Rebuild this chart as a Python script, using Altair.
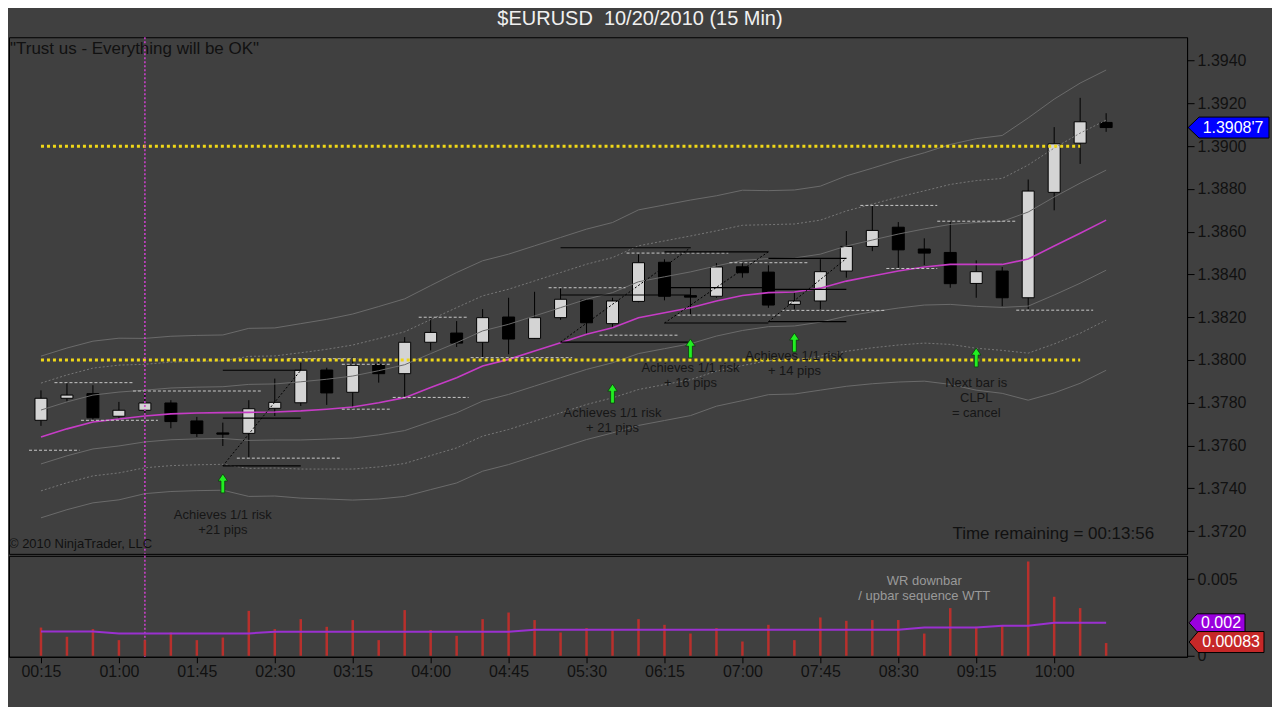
import altair as alt
import pandas as pd

FONT = "Liberation Sans"
BG = "#404040"

# ---------------- data ----------------
time_labels = ["00:15", "01:00", "01:45", "02:30", "03:15", "04:00", "04:45",
               "05:30", "06:15", "07:00", "07:45", "08:30", "09:15", "10:00"]
price_ticks = [1.3720, 1.3740, 1.3760, 1.3780, 1.3800, 1.3820,
               1.3840, 1.3860, 1.3880, 1.3900, 1.3920, 1.3940]
vol_ticks = [0, 0.005]

opens = [1.37718, 1.37821, 1.37843, 1.37737, 1.37765, 1.37799, 1.37715, 1.37659, 1.37657, 1.37774,
         1.37800, 1.37953, 1.37849, 1.37980, 1.37936, 1.38083, 1.38126, 1.38083, 1.38201, 1.38101,
         1.38198, 1.38280, 1.38170, 1.38274, 1.38457, 1.38301, 1.38298, 1.38436, 1.38411, 1.38260,
         1.38276, 1.38416, 1.38531, 1.38621, 1.38519, 1.38503, 1.38358, 1.38416, 1.38291, 1.38784,
         1.39014, 1.39111]
highs = [1.37858, 1.37894, 1.37882, 1.37804, 1.37852, 1.37812, 1.37734, 1.37707, 1.37812, 1.37913,
         1.37987, 1.37964, 1.38011, 1.37991, 1.38107, 1.38195, 1.38182, 1.38238, 1.38291, 1.38319,
         1.38338, 1.38282, 1.38291, 1.38494, 1.38471, 1.38338, 1.38453, 1.38453, 1.38443, 1.38315,
         1.38471, 1.38603, 1.38720, 1.38645, 1.38569, 1.38645, 1.38466, 1.38435, 1.38844, 1.39089,
         1.39226, 1.39154]
lows = [1.37692, 1.37805, 1.37715, 1.37723, 1.37737, 1.37681, 1.37640, 1.37598, 1.37543, 1.37738,
        1.37785, 1.37790, 1.37770, 1.37894, 1.37824, 1.38045, 1.38061, 1.38014, 1.38027, 1.38098,
        1.38188, 1.38120, 1.38148, 1.38270, 1.38279, 1.38214, 1.38291, 1.38385, 1.38244, 1.38237,
        1.38237, 1.38385, 1.38509, 1.38431, 1.38444, 1.38338, 1.38291, 1.38252, 1.38237, 1.38700,
        1.38917, 1.39067]
closes = [1.37821, 1.37836, 1.37730, 1.37765, 1.37799, 1.37712, 1.37656, 1.37653, 1.37772, 1.37802,
          1.37952, 1.37846, 1.37975, 1.37936, 1.38083, 1.38129, 1.38079, 1.38198, 1.38098, 1.38198,
          1.38284, 1.38174, 1.38276, 1.38455, 1.38298, 1.38294, 1.38435, 1.38408, 1.38257, 1.38276,
          1.38413, 1.38531, 1.38606, 1.38515, 1.38500, 1.38357, 1.38413, 1.38291, 1.38790, 1.39011,
          1.39114, 1.39087]

moving_avg = [1.37640, 1.37678, 1.37710, 1.37724, 1.37738, 1.37748, 1.37752, 1.37754, 1.37755, 1.37757,
              1.37762, 1.37770, 1.37780, 1.37800, 1.37824, 1.37871, 1.37917, 1.37972, 1.38003, 1.38042,
              1.38081, 1.38120, 1.38151, 1.38198, 1.38221, 1.38244, 1.38276, 1.38302, 1.38315, 1.38318,
              1.38336, 1.38369, 1.38393, 1.38416, 1.38435, 1.38447, 1.38447, 1.38447, 1.38472, 1.38533,
              1.38593, 1.38654]
band_width = [0.00126, 0.00126, 0.00126, 0.00126, 0.00121, 0.00121, 0.00121, 0.00121, 0.00131, 0.00131,
              0.00136, 0.00140, 0.00145, 0.00150, 0.00154, 0.00159, 0.00164, 0.00164, 0.00164, 0.00164,
              0.00164, 0.00164, 0.00164, 0.00168, 0.00168, 0.00168, 0.00164, 0.00164, 0.00159, 0.00159,
              0.00159, 0.00164, 0.00168, 0.00173, 0.00178, 0.00187, 0.00196, 0.00201, 0.00220, 0.00229,
              0.00234, 0.00234]

volume = [0.00184, 0.00124, 0.00174, 0.00102, 0.00102, 0.00152, 0.00102, 0.00119, 0.00293, 0.00174,
          0.00239, 0.00189, 0.00233, 0.00102, 0.00298, 0.00168, 0.00130, 0.00239, 0.00282, 0.00233,
          0.00152, 0.00181, 0.00174, 0.00239, 0.00202, 0.00145, 0.00181, 0.00093, 0.00202, 0.00102,
          0.00250, 0.00228, 0.00233, 0.00233, 0.00145, 0.00311, 0.00189, 0.00196, 0.00615, 0.00385,
          0.00311, 0.00083]
volume_avg = [0.00159, 0.00159, 0.00159, 0.00146, 0.00146, 0.00146, 0.00146, 0.00146, 0.00146, 0.00156,
              0.00156, 0.00156, 0.00156, 0.00156, 0.00156, 0.00156, 0.00156, 0.00156, 0.00156, 0.00170,
              0.00170, 0.00170, 0.00170, 0.00170, 0.00170, 0.00170, 0.00170, 0.00170, 0.00170, 0.00170,
              0.00170, 0.00170, 0.00170, 0.00170, 0.00185, 0.00185, 0.00185, 0.00196, 0.00196, 0.00215,
              0.00215, 0.00215]

# support / resistance levels (yellow dotted)
level_prices = [1.3900, 1.3800]
level_start = [0, 0]
level_end = [40, 40]

# short dashed swing markers
mk_start = [-0.46, 0.52, 1.54, 3.54, 7.54, 9.5, 11.58, 11.58, 13.54, 14.54, 16.54,
            19.54, 21.5, 22.54, 24.5, 26.5, 28.5, 31.54, 32.54, 34.5, 37.54]
mk_end = [1.48, 3.54, 4.5, 8.46, 11.5, 12.2, 13.5, 13.5, 16.46, 16.46, 20.45,
          22.5, 24.5, 26.46, 28.5, 29.54, 32.46, 34.5, 34.5, 37.5, 40.5]
mk_price = [1.37578, 1.37894, 1.37718, 1.37855, 1.37541, 1.38006, 1.37980, 1.37770, 1.37825, 1.38200, 1.38011,
            1.38338, 1.38116, 1.38500, 1.38210, 1.38455, 1.38232, 1.38723, 1.38428, 1.38649, 1.38233]

# trade boxes: target / entry / stop lines
tr_start = [7, 7, 7, 20, 20, 20, 24, 24, 24, 28, 28, 28]
tr_end = [10, 10, 10, 25, 25, 25, 28, 28, 28, 31, 31, 31]
tr_price = [1.37952, 1.37728, 1.37505, 1.38525, 1.38304, 1.38084,
            1.38506, 1.38338, 1.38173, 1.38475, 1.38330, 1.38179]
dg_start = [7, 20, 24, 28]
dg_end = [10, 25, 28, 31]
dg_p1 = [1.37505, 1.38084, 1.38173, 1.38179]
dg_p2 = [1.37952, 1.38525, 1.38506, 1.38475]

arrow_bar = [7, 22, 25, 29, 36]
arrow_price = [1.37423, 1.37843, 1.38054, 1.38082, 1.38012]

note_bar = [7, 7, 22, 22, 25, 25, 29, 29, 36, 36, 36]
note_price = [1.37276, 1.37206, 1.37752, 1.37682, 1.37963, 1.37893, 1.38019, 1.37949,
              1.37893, 1.37822, 1.37752]
note_text = ["Achieves 1/1 risk", "+21 pips", "Achieves 1/1 risk", "+ 21 pips",
             "Achieves 1/1 risk", "+ 16 pips", "Achieves 1/1 risk", "+ 14 pips",
             "Next bar is", "CLPL", "= cancel"]

vnote_bar = [34, 34]
vnote_val = [0.00489, 0.00391]
vnote_text = ["WR downbar", "/ upbar sequence WTT"]

marker_bar = 4

# ---------------- layout ----------------
W, H_MAIN, H_VOL = 1179, 517, 101
BAR_PX = 26.0
FIRST_PX = 32.0
x_scale = alt.Scale(domain=[-FIRST_PX / BAR_PX, (W - FIRST_PX) / BAR_PX], nice=False, zero=False,
                    padding=0)
p_scale = alt.Scale(domain=[1.370935, 1.395093], nice=False, zero=False, padding=0)
v_scale = alt.Scale(domain=[-0.000065, 0.006519], nice=False, zero=False, padding=0)

n = len(opens)
candles = pd.DataFrame({"i": list(range(n)), "open": opens, "high": highs,
                        "low": lows, "close": closes})
candles["dir"] = ["up" if c >= o else "down" for o, c in zip(opens, closes)]

band_rows = []
for k in (1, 2, 3):
    for sgn in (1, -1):
        for i in range(n):
            band_rows.append({"i": i, "p": moving_avg[i] + sgn * k * band_width[i],
                              "band": f"{sgn}_{k}", "k": k})
bands = pd.DataFrame(band_rows)

ma_df = pd.DataFrame({"i": list(range(n)), "p": moving_avg})
lvl_df = pd.DataFrame({"s": level_start, "e": level_end, "p": level_prices})
mk_df = pd.DataFrame({"s": mk_start, "e": mk_end, "p": mk_price})
tr_df = pd.DataFrame({"s": tr_start, "e": tr_end, "p": tr_price})
dg_df = pd.DataFrame({"s": dg_start, "e": dg_end, "p1": dg_p1, "p2": dg_p2})
ar_df = pd.DataFrame({"i": arrow_bar, "p": arrow_price})
nt_df = pd.DataFrame({"i": note_bar, "p": note_price, "t": note_text})
vl_df = pd.DataFrame({"i": [marker_bar]})

y_axis = alt.Axis(orient="right", values=price_ticks, format=".4f", title=None, grid=False,
                  tickSize=7, labelPadding=3, labelFontSize=16, labelColor="#111111",
                  labelFont=FONT, domainColor="#000000", tickColor="#000000")


def PX(f):
    return alt.X(f, type="quantitative", scale=x_scale, axis=None)


def PY(f):
    return alt.Y(f, type="quantitative", scale=p_scale, axis=y_axis)


wicks = alt.Chart(candles).mark_rule(color="#000000", strokeWidth=1).encode(
    x=PX("i"), y=PY("low"), y2="high")
bodies = alt.Chart(candles).mark_bar(size=12, stroke="#000000", strokeWidth=1).encode(
    x=PX("i"), y=PY("open"), y2="close",
    color=alt.Color("dir:N", scale=alt.Scale(domain=["up", "down"], range=["#d4d4d4", "#000000"]),
                    legend=None))
band_solid = alt.Chart(bands[bands.k != 2]).mark_line(color="#6a6a6a", strokeWidth=1).encode(
    x=PX("i"), y=PY("p"), detail="band:N")
band_dot = alt.Chart(bands[bands.k == 2]).mark_line(color="#767676", strokeWidth=1,
                                                    strokeDash=[2, 2]).encode(
    x=PX("i"), y=PY("p"), detail="band:N")
ma_line = alt.Chart(ma_df).mark_line(color="#c63cc6", strokeWidth=1.6).encode(x=PX("i"), y=PY("p"))
markers = alt.Chart(mk_df).mark_rule(color="#c8c8c8", strokeDash=[3, 2], strokeWidth=1).encode(
    x=PX("s"), x2="e", y=PY("p"))
levels = alt.Chart(lvl_df).mark_rule(color="#f0d818", strokeWidth=3, strokeDash=[3, 3]).encode(
    x=PX("s"), x2="e", y=PY("p"))
trades = alt.Chart(tr_df).mark_rule(color="#000000", strokeWidth=1.2).encode(
    x=PX("s"), x2="e", y=PY("p"))
diags = alt.Chart(dg_df).mark_rule(color="#000000", strokeWidth=1, strokeDash=[2, 2]).encode(
    x=PX("s"), x2="e", y=PY("p1"), y2="p2")
vline = alt.Chart(vl_df).mark_rule(color="#d040d0", strokeWidth=1.5, strokeDash=[2, 2]).encode(
    x=PX("i"))
ARROW = "M0,-1 L0.5,-0.25 L0.2,-0.25 L0.2,1 L-0.2,1 L-0.2,-0.25 L-0.5,-0.25 Z"
arrows = alt.Chart(ar_df).mark_point(shape=ARROW, size=361, filled=True, fill="#22ee22",
                                     stroke="#0b3d0b", strokeWidth=0.8, opacity=1).encode(
    x=PX("i"), y=PY("p"))
notes = alt.Chart(nt_df).mark_text(font=FONT, fontSize=13, color="#161616").encode(
    x=PX("i"), y=PY("p"), text="t:N")

trust = alt.Chart(pd.DataFrame({"t": ["\"Trust us - Everything will be OK\""]})).mark_text(
    align="left", baseline="middle", font=FONT, fontSize=17, color="#111111").encode(
    x=alt.value(1), y=alt.value(12), text="t:N")
copyright_ = alt.Chart(pd.DataFrame({"t": ["© 2010 NinjaTrader, LLC"]})).mark_text(
    align="left", baseline="middle", font=FONT, fontSize=13, color="#111111").encode(
    x=alt.value(0), y=alt.value(507), text="t:N")
remaining = alt.Chart(pd.DataFrame({"t": ["Time remaining = 00:13:56"]})).mark_text(
    align="right", baseline="middle", font=FONT, fontSize=17, color="#111111").encode(
    x=alt.value(1146), y=alt.value(497), text="t:N")

last_txt = f"{closes[-1]:.5f}"
last_txt = last_txt[:-1] + "'" + last_txt[-1]
last_df = pd.DataFrame({"p": [closes[-1]], "t": [last_txt]})
BLUE_BOX = "M0,0 L0.524,-0.5 L3.857,-0.5 L3.857,0.5 L0.524,0.5 Z"
price_box = alt.Chart(last_df).mark_point(shape=BLUE_BOX, size=1764, filled=True, fill="#0000ff",
                                          stroke="#000000", strokeWidth=1, opacity=1).encode(
    x=alt.value(1180), y=PY("p"))
price_txt = alt.Chart(last_df).mark_text(font=FONT, fontSize=16, color="#ffffff").encode(
    x=alt.value(1225), y=PY("p"), text="t:N")

top = alt.layer(wicks, bodies, band_solid, band_dot, ma_line, markers, trades, diags, levels,
                vline, arrows, notes, trust, copyright_, remaining, price_box, price_txt
                ).properties(width=W, height=H_MAIN)

# ---------------- volume panel ----------------
vol_df = pd.DataFrame({"i": list(range(n)), "v": volume, "a": volume_avg})
vn_df = pd.DataFrame({"i": vnote_bar, "v": vnote_val, "t": vnote_text})
label_expr = "[" + ",".join(f"'{t}'" for t in time_labels) + "][round(datum.value/3)]"
vx_axis = alt.Axis(values=[3 * k for k in range(len(time_labels))], labelExpr=label_expr,
                   title=None, grid=False, tickSize=6, labelPadding=1, labelFontSize=16,
                   labelColor="#111111", labelFont=FONT, domainColor="#000000", tickColor="#000000")
vy_axis = alt.Axis(orient="right", values=vol_ticks, format="~g", title=None, grid=False,
                   tickSize=7, labelPadding=3, labelFontSize=16, labelColor="#111111",
                   labelFont=FONT, domainColor="#000000", tickColor="#000000")


def VX(f):
    return alt.X(f, type="quantitative", scale=x_scale, axis=vx_axis)


def VY(f):
    return alt.Y(f, type="quantitative", scale=v_scale, axis=vy_axis)


vline2 = alt.Chart(vl_df).mark_rule(color="#d040d0", strokeWidth=1.5, strokeDash=[2, 2]).encode(
    x=VX("i"))
vbars = alt.Chart(vol_df).mark_bar(size=2.5, color="#b8302c").encode(x=VX("i"), y=VY("v"))
vavg = alt.Chart(vol_df).mark_line(color="#9a30d0", strokeWidth=2).encode(x=VX("i"), y=VY("a"))
vnotes = alt.Chart(vn_df).mark_text(font=FONT, fontSize=13, color="#9a9a9a").encode(
    x=VX("i"), y=VY("v"), text="t:N")

avg_df = pd.DataFrame({"a": [volume_avg[-1]], "t": [f"{volume_avg[-1]:.3f}"]})
vlast_df = pd.DataFrame({"v": [volume[-1]], "t": [f"{volume[-1]:.5f}"]})
PURPLE_BOX = "M0,0 L0.444,-0.5 L3.11,-0.5 L3.11,0.5 L0.444,0.5 Z"
RED_BOX = "M0,0 L0.43,-0.5 L3.571,-0.5 L3.571,0.5 L0.43,0.5 Z"
avg_box = alt.Chart(avg_df).mark_point(shape=PURPLE_BOX, size=1296, filled=True, fill="#9900dd",
                                       stroke="#000000", strokeWidth=1, opacity=1).encode(
    x=alt.value(1181), y=VY("a"))
avg_txt = alt.Chart(avg_df).mark_text(font=FONT, fontSize=16, color="#ffffff").encode(
    x=alt.value(1213), y=VY("a"), text="t:N")
vol_box = alt.Chart(vlast_df).mark_point(shape=RED_BOX, size=1764, filled=True, fill="#c62828",
                                         stroke="#000000", strokeWidth=1, opacity=1,
                                         yOffset=-1).encode(
    x=alt.value(1181), y=VY("v"))
vol_txt = alt.Chart(vlast_df).mark_text(font=FONT, fontSize=16, color="#ffffff", yOffset=-1).encode(
    x=alt.value(1223), y=VY("v"), text="t:N")

bottom = alt.layer(vline2, vbars, vavg, vnotes, avg_box, avg_txt, vol_box, vol_txt
                   ).properties(width=W, height=H_VOL)

chart = alt.vconcat(top, bottom, spacing=-3).properties(
    title=alt.TitleParams("$EURUSD\u00a0 10/20/2010 (15 Min)", fontSize=20, font=FONT,
                          color="#f0f0f0", fontWeight="normal", offset=7, anchor="middle"),
    padding={"left": 0, "top": 0, "right": 0, "bottom": 26},
    background=BG,
).configure_view(stroke="#000000", strokeWidth=1)

chart.save("out.html", embed_options={"renderer": "svg", "actions": False})
